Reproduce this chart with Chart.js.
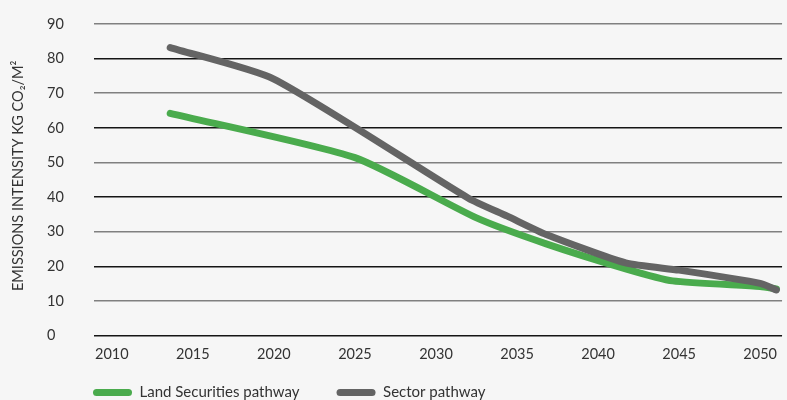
<!DOCTYPE html>
<html>
<head>
<meta charset="utf-8">
<script src="https://cdn.jsdelivr.net/npm/chart.js@4"></script>
<style>
    html, body { margin: 0; padding: 0; background: #f6f6f6; overflow: hidden; }
    #wrap { width: 787px; height: 416px; position: relative; }
</style>
</head>
<body>
<div id="wrap"><canvas id="emissionsChart"></canvas></div>
<script>
// Emissions intensity pathways, kg CO2 per m2
const landYears = [2013.6, 2025, 2032.5, 2036.8, 2041.7, 2044.6, 2050, 2051];
const landSecurities = [64.2, 51.4, 34.0, 26.5, 19.3, 15.8, 14.2, 13.5];
const sectorYears = [2013.6, 2020, 2032, 2034.4, 2036.8, 2041.7, 2045, 2050, 2051];
const sector = [83.2, 74.1, 39.7, 34.5, 29.2, 21.0, 18.9, 15.1, 13.2];
const yearTicks = [2010, 2015, 2020, 2025, 2030, 2035, 2040, 2045, 2050];

const GREEN = '#4aab4d';
const GREY = '#646464';
const FONT = 'Lato, "Open Sans", sans-serif';

// Rotated y-axis title in the left padding; legend pulled up under the year labels
const extras = {
    id: 'extras',
    afterLayout(chart) {
        chart.legend.left += 9;
        chart.legend.top -= 25;
    },
    afterDraw(chart) {
        const { ctx, chartArea } = chart;
        ctx.save();
        ctx.translate(18, (chartArea.top + chartArea.bottom) / 2 - 4);
        ctx.rotate(-Math.PI / 2);
        ctx.font = '14.5px ' + FONT;
        ctx.fillStyle = '#333';
        ctx.textAlign = 'center';
        ctx.textBaseline = 'middle';
        ctx.fillText('EMISSIONS INTENSITY KG CO₂/M²', 0, 0);
        ctx.restore();
    }
};

const toPoints = (xs, ys) => ys.map((v, i) => ({ x: xs[i], y: v }));

const ctx = document.getElementById('emissionsChart').getContext('2d');
new Chart(ctx, {
    type: 'line',
    data: {
        datasets: [{
            label: 'Land Securities pathway',
            data: toPoints(landYears, landSecurities),
            borderColor: GREEN,
            backgroundColor: GREEN,
            order: 1
        }, {
            label: 'Sector pathway',
            data: toPoints(sectorYears, sector),
            borderColor: GREY,
            backgroundColor: GREY,
            order: 0
        }]
    },
    options: {
        responsive: true,
        maintainAspectRatio: false,
        animation: false,
        layout: { padding: { left: 47, top: 24, right: 0, bottom: 0 } },
        elements: {
            line: {
                borderWidth: 7,
                borderCapStyle: 'round',
                borderJoinStyle: 'round',
                tension: 0.2
            },
            point: { radius: 0, hoverRadius: 0 }
        },
        scales: {
            x: {
                type: 'linear',
                min: 2008.9,
                max: 2051.35,
                grid: { display: false, drawTicks: false },
                border: { display: false },
                afterBuildTicks: axis => {
                    axis.ticks = yearTicks.map(v => ({ value: v }));
                },
                ticks: {
                    color: '#333',
                    padding: 10,
                    maxRotation: 0,
                    font: { family: FONT, size: 14.5 },
                    callback: v => String(v)
                }
            },
            y: {
                min: 0,
                max: 90,
                border: { display: false },
                afterFit: axis => { axis.width = 47; },
                grid: {
                    drawTicks: false,
                    lineWidth: 1.5,
                    color: c => (c.tick && c.tick.value % 20 === 0) ? '#151515' : '#808080'
                },
                ticks: {
                    stepSize: 10,
                    crossAlign: 'far',
                    color: '#333',
                    font: { family: FONT, size: 14.5 }
                }
            }
        },
        plugins: {
            tooltip: { enabled: false },
            legend: {
                position: 'bottom',
                align: 'start',
                maxHeight: 43,
                labels: {
                    boxWidth: 39,
                    boxHeight: 7,
                    useBorderRadius: true,
                    borderRadius: 3.5,
                    padding: 37,
                    color: '#333',
                    font: { family: FONT, size: 15 },
                    sort: (a, b) => a.datasetIndex - b.datasetIndex,
                    generateLabels: chart =>
                        Chart.defaults.plugins.legend.labels.generateLabels(chart)
                            .map(l => ({ ...l, lineWidth: 0 }))
                }
            }
        }
    },
    plugins: [extras]
});
</script>
</body>
</html>
